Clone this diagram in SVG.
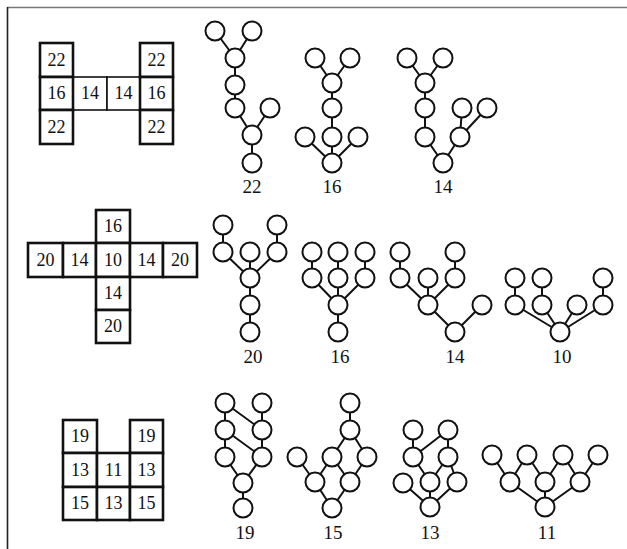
<svg xmlns="http://www.w3.org/2000/svg" width="627" height="549" viewBox="0 0 627 549">
<style>
.cell{fill:#fff;stroke:#111;stroke-width:2.6}
.thin{fill:#fff;stroke:#111;stroke-width:1.6}
.num{font-family:"Liberation Serif",serif;font-size:18px;fill:#111;text-anchor:middle}
.lbl{font-family:"Liberation Serif",serif;font-size:19px;fill:#111;text-anchor:middle}
.n{fill:#fff;stroke:#111;stroke-width:2}
.e{stroke:#111;stroke-width:2;fill:none}
</style>
<rect width="627" height="549" fill="#fff"/>
<line x1="7" y1="7.5" x2="627" y2="7.5" stroke="#777" stroke-width="1.6"/>
<line x1="7.5" y1="7" x2="7.5" y2="549" stroke="#222" stroke-width="1.6"/>

<g id="grid1">
<rect class="thin" x="73" y="77" width="34" height="33"/>
<rect class="thin" x="107" y="77" width="33" height="33"/>
<rect class="cell" x="40" y="43" width="33" height="34"/>
<rect class="cell" x="40" y="77" width="33" height="33"/>
<rect class="cell" x="40" y="110" width="33" height="34"/>
<rect class="cell" x="140" y="43" width="33" height="34"/>
<rect class="cell" x="140" y="77" width="33" height="33"/>
<rect class="cell" x="140" y="110" width="33" height="34"/>
<text class="num" x="56.5" y="66">22</text>
<text class="num" x="56.5" y="99">16</text>
<text class="num" x="90" y="99">14</text>
<text class="num" x="123.5" y="99">14</text>
<text class="num" x="156.5" y="99">16</text>
<text class="num" x="156.5" y="66">22</text>
<text class="num" x="56.5" y="133">22</text>
<text class="num" x="156.5" y="133">22</text>
</g>

<g id="grid2">
<rect class="cell" x="96" y="210" width="34" height="33"/>
<rect class="cell" x="28" y="243" width="35" height="34"/>
<rect class="cell" x="63" y="243" width="33" height="34"/>
<rect class="cell" x="96" y="243" width="34" height="34"/>
<rect class="cell" x="130" y="243" width="33" height="34"/>
<rect class="cell" x="163" y="243" width="34" height="34"/>
<rect class="cell" x="96" y="277" width="34" height="33"/>
<rect class="cell" x="96" y="310" width="34" height="33"/>
<text class="num" x="113" y="232">16</text>
<text class="num" x="45.5" y="266">20</text>
<text class="num" x="79.5" y="266">14</text>
<text class="num" x="113" y="266">10</text>
<text class="num" x="146.5" y="266">14</text>
<text class="num" x="180" y="266">20</text>
<text class="num" x="113" y="299">14</text>
<text class="num" x="113" y="332">20</text>
</g>

<g id="grid3">
<rect class="cell" x="63" y="420" width="34" height="33"/>
<rect class="cell" x="130" y="420" width="33" height="33"/>
<rect class="cell" x="63" y="453" width="34" height="34"/>
<rect class="cell" x="97" y="453" width="33" height="34"/>
<rect class="cell" x="130" y="453" width="33" height="34"/>
<rect class="cell" x="63" y="487" width="34" height="33"/>
<rect class="cell" x="97" y="487" width="33" height="33"/>
<rect class="cell" x="130" y="487" width="33" height="33"/>
<text class="num" x="80" y="442">19</text>
<text class="num" x="146.5" y="442">19</text>
<text class="num" x="80" y="476">13</text>
<text class="num" x="113.5" y="476">11</text>
<text class="num" x="146.5" y="476">13</text>
<text class="num" x="80" y="509">15</text>
<text class="num" x="113.5" y="509">13</text>
<text class="num" x="146.5" y="509">15</text>
</g>

<g id="connectors" class="e">
<path d="M215,31L235,58M252,31L235,58M235,58L235,85M235,85L235,108M235,108L252,135M270,108L252,135M252,135L252,163"/>
<path d="M315,58L332,83M350,58L332,83M332,83V163M305,137L332,163M358,137L332,163"/>
<path d="M407,58L425,83M443,58L425,83M425,83V137M425,137L443,163M460,137L443,163M462,108L460,137M487,108L460,137"/>
<path d="M223,225V252M277,225V252M223,252L250,278M250,252V278M277,252L250,278M250,278V332"/>
<path d="M312,252V278M338,252V278M365,252V278M312,278L338,305M338,278V305M365,278L338,305M338,305V332"/>
<path d="M400,252V278M455,252V278M400,278L428,305M428,278V305M455,278L428,305M428,305L455,332M482,305L455,332"/>
<path d="M515,278V305M542,278V305M603,278V305M515,305L560,332M542,305L560,332M577,305L560,332M603,305L560,332"/>
<path d="M225,403V457M262,403V457M225,403L262,430M225,430L262,457M225,457L243,483M262,457L243,483M243,483V508"/>
<path d="M350,403V430M350,430L332,457M350,430L367,457M297,457L315,482M332,457L315,482M332,457L350,482M367,457L350,482M315,482L332,508M350,482L332,508"/>
<path d="M413,430V457M448,430L413,457M448,430V457M413,457L430,482M448,457L430,482M448,457L457,482M403,483L430,507M430,482V507M457,482L430,507"/>
<path d="M492,455L510,482M527,455L510,482M527,455L545,482M563,455L545,482M563,455L580,482M598,455L580,482M510,482L545,507M545,482V507M580,482L545,507"/>
</g>

<g id="tree22">
<circle class="n" cx="215" cy="31" r="9.5"/><circle class="n" cx="252" cy="31" r="9.5"/>
<circle class="n" cx="235" cy="58" r="9.5"/><circle class="n" cx="235" cy="85" r="9.5"/>
<circle class="n" cx="235" cy="108" r="9.5"/><circle class="n" cx="270" cy="108" r="9.5"/>
<circle class="n" cx="252" cy="135" r="9.5"/><circle class="n" cx="252" cy="163" r="9.5"/>
<text class="lbl" x="252" y="193">22</text>
</g>
<g id="tree16a">
<circle class="n" cx="315" cy="58" r="9.5"/><circle class="n" cx="350" cy="58" r="9.5"/>
<circle class="n" cx="332" cy="83" r="9.5"/><circle class="n" cx="332" cy="108" r="9.5"/>
<circle class="n" cx="305" cy="137" r="9.5"/><circle class="n" cx="332" cy="137" r="9.5"/>
<circle class="n" cx="358" cy="137" r="9.5"/><circle class="n" cx="332" cy="163" r="9.5"/>
<text class="lbl" x="332" y="193">16</text>
</g>
<g id="tree14a">
<circle class="n" cx="407" cy="58" r="9.5"/><circle class="n" cx="443" cy="58" r="9.5"/>
<circle class="n" cx="425" cy="83" r="9.5"/><circle class="n" cx="425" cy="108" r="9.5"/>
<circle class="n" cx="462" cy="108" r="9.5"/><circle class="n" cx="487" cy="108" r="9.5"/>
<circle class="n" cx="425" cy="137" r="9.5"/><circle class="n" cx="460" cy="137" r="9.5"/>
<circle class="n" cx="443" cy="163" r="9.5"/>
<text class="lbl" x="443" y="193">14</text>
</g>
<g id="tree20">
<circle class="n" cx="223" cy="225" r="9.5"/><circle class="n" cx="277" cy="225" r="9.5"/>
<circle class="n" cx="223" cy="252" r="9.5"/><circle class="n" cx="250" cy="252" r="9.5"/>
<circle class="n" cx="277" cy="252" r="9.5"/><circle class="n" cx="250" cy="278" r="9.5"/>
<circle class="n" cx="250" cy="305" r="9.5"/><circle class="n" cx="250" cy="332" r="9.5"/>
<text class="lbl" x="253" y="363">20</text>
</g>
<g id="tree16b">
<circle class="n" cx="312" cy="252" r="9.5"/><circle class="n" cx="338" cy="252" r="9.5"/>
<circle class="n" cx="365" cy="252" r="9.5"/><circle class="n" cx="312" cy="278" r="9.5"/>
<circle class="n" cx="338" cy="278" r="9.5"/><circle class="n" cx="365" cy="278" r="9.5"/>
<circle class="n" cx="338" cy="305" r="9.5"/><circle class="n" cx="338" cy="332" r="9.5"/>
<text class="lbl" x="340" y="363">16</text>
</g>
<g id="tree14b">
<circle class="n" cx="400" cy="252" r="9.5"/><circle class="n" cx="455" cy="252" r="9.5"/>
<circle class="n" cx="400" cy="278" r="9.5"/><circle class="n" cx="428" cy="278" r="9.5"/>
<circle class="n" cx="455" cy="278" r="9.5"/><circle class="n" cx="428" cy="305" r="9.5"/>
<circle class="n" cx="482" cy="305" r="9.5"/><circle class="n" cx="455" cy="332" r="9.5"/>
<text class="lbl" x="455" y="363">14</text>
</g>
<g id="tree10">
<circle class="n" cx="515" cy="278" r="9.5"/><circle class="n" cx="542" cy="278" r="9.5"/>
<circle class="n" cx="603" cy="278" r="9.5"/><circle class="n" cx="515" cy="305" r="9.5"/>
<circle class="n" cx="542" cy="305" r="9.5"/><circle class="n" cx="577" cy="305" r="9.5"/>
<circle class="n" cx="603" cy="305" r="9.5"/><circle class="n" cx="560" cy="332" r="9.5"/>
<text class="lbl" x="562" y="363">10</text>
</g>
<g id="tree19">
<circle class="n" cx="225" cy="403" r="9.5"/><circle class="n" cx="262" cy="403" r="9.5"/>
<circle class="n" cx="225" cy="430" r="9.5"/><circle class="n" cx="262" cy="430" r="9.5"/>
<circle class="n" cx="225" cy="457" r="9.5"/><circle class="n" cx="262" cy="457" r="9.5"/>
<circle class="n" cx="243" cy="483" r="9.5"/><circle class="n" cx="243" cy="508" r="9.5"/>
<text class="lbl" x="245" y="539">19</text>
</g>
<g id="tree15">
<circle class="n" cx="350" cy="403" r="9.5"/><circle class="n" cx="350" cy="430" r="9.5"/>
<circle class="n" cx="297" cy="457" r="9.5"/><circle class="n" cx="332" cy="457" r="9.5"/>
<circle class="n" cx="367" cy="457" r="9.5"/><circle class="n" cx="315" cy="482" r="9.5"/>
<circle class="n" cx="350" cy="482" r="9.5"/><circle class="n" cx="332" cy="508" r="9.5"/>
<text class="lbl" x="333" y="539">15</text>
</g>
<g id="tree13">
<circle class="n" cx="413" cy="430" r="9.5"/><circle class="n" cx="448" cy="430" r="9.5"/>
<circle class="n" cx="413" cy="457" r="9.5"/><circle class="n" cx="448" cy="457" r="9.5"/>
<circle class="n" cx="403" cy="483" r="9.5"/><circle class="n" cx="430" cy="482" r="9.5"/>
<circle class="n" cx="457" cy="482" r="9.5"/><circle class="n" cx="430" cy="507" r="9.5"/>
<text class="lbl" x="430" y="539">13</text>
</g>
<g id="tree11">
<circle class="n" cx="492" cy="455" r="9.5"/><circle class="n" cx="527" cy="455" r="9.5"/>
<circle class="n" cx="563" cy="455" r="9.5"/><circle class="n" cx="598" cy="455" r="9.5"/>
<circle class="n" cx="510" cy="482" r="9.5"/><circle class="n" cx="545" cy="482" r="9.5"/>
<circle class="n" cx="580" cy="482" r="9.5"/><circle class="n" cx="545" cy="507" r="9.5"/>
<text class="lbl" x="547" y="539">11</text>
</g>
</svg>
